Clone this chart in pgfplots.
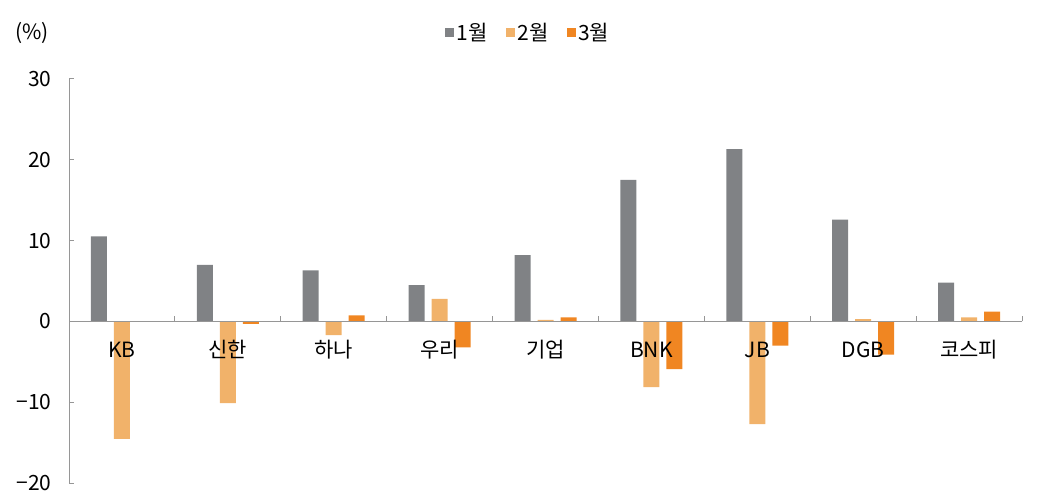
\documentclass[border=0pt]{standalone}
\usepackage{fontspec}
\setmainfont{Noto Sans CJK KR}
\usepackage{pgfplots}
\pgfplotsset{compat=1.18}
\definecolor{c1}{RGB}{128,130,133}
\definecolor{c2}{RGB}{241,178,106}
\definecolor{c3}{RGB}{240,134,34}
\definecolor{axisgray}{RGB}{150,150,150}
\begin{document}
\begin{tikzpicture}
    \useasboundingbox (0,0) rectangle (1039bp,501bp);
    \begin{axis}[
        at                 = {(69bp,17.7bp)},
        anchor             = south west,
        scale only axis,
        width              = 953bp,
        height             = 404.6bp,
        font               = \fontsize{21bp}{24bp}\selectfont,
        ybar               = 7bp,
        bar width          = 16bp,
        xmin               = -0.5,
        xmax               = 8.5,
        ymin               = -20,
        ymax               = 30,
        axis on top,
        axis x line        = middle,
        axis y line        = left,
        hide obscured x ticks = false,
        axis line style    = {draw=axisgray, line width=0.8pt, -},
        tick style         = {draw=axisgray, line width=0.8pt},
        tick align         = inside,
        major tick length  = 5bp,
        xtick              = {-0.5,0.5,1.5,2.5,3.5,4.5,5.5,6.5,7.5,8.5},
        x tick label as interval,
        xticklabels        = {KB, 신한, 하나, 우리, 기업, BNK, JB, DGB, 코스피},
        xticklabel style   = {anchor=center, yshift=-28bp},
        ytick              = {-20,-10,0,10,20,30},
        yticklabels        = {−20,−10,0,10,20,30},
        yticklabel style   = {xshift=-14bp},
        legend columns     = 3,
        legend style       = {draw=none, fill=none, at={(0.482,1.113)}, anchor=center,
                              nodes={inner xsep=2bp},
                              /tikz/every even column/.style={column sep=17bp}},
        legend image code/.code = {\fill[#1, draw=none] (0bp,-4.5bp) rectangle (9bp,4.5bp);},
        clip               = false]

        \addplot[fill=c1, draw=none] coordinates {
            (0,10.5) (1,7.0) (2,6.3) (3,4.5) (4,8.2) (5,17.5) (6,21.3) (7,12.6) (8,4.8)
        };
        \addplot[fill=c2, draw=none] coordinates {
            (0,-14.5) (1,-10.1) (2,-1.7) (3,2.8) (4,0.2) (5,-8.1) (6,-12.7) (7,0.3) (8,0.5)
        };
        \addplot[fill=c3, draw=none] coordinates {
            (0,0.05) (1,-0.3) (2,0.75) (3,-3.2) (4,0.5) (5,-5.9) (6,-3.0) (7,-4.1) (8,1.2)
        };
        \legend{1월, 2월, 3월}

        \node at (rel axis cs:-0.039,1.113) {(\%)};
    \end{axis}
\end{tikzpicture}
\end{document}
